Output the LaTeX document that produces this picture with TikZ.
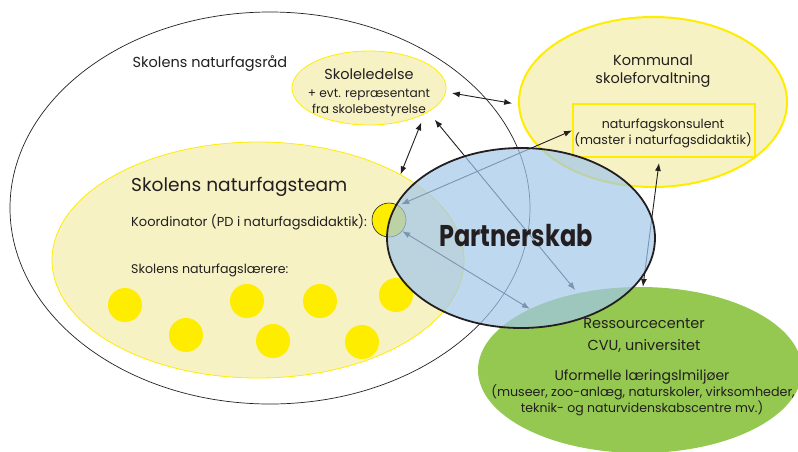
\documentclass[tikz,border=0pt]{standalone}
\usepackage{fontspec}
\setmainfont{Poppins}
\usetikzlibrary{shapes.geometric,arrows.meta}
\definecolor{ink}{RGB}{35,31,32}
\definecolor{paleyellow}{RGB}{247,242,196}
\definecolor{signal}{RGB}{255,237,0}
\definecolor{leaf}{RGB}{148,200,80}
\definecolor{sky}{RGB}{162,199,234}
\newcommand\fs[1]{\fontsize{#1}{#1}\selectfont}
\begin{document}
\begin{tikzpicture}[x=1pt,y=-1pt,
  txt/.style={inner sep=0pt, text=ink, anchor=base},
  blob/.style={ellipse, inner sep=0pt},
  dot/.style={circle, inner sep=0pt, minimum size=34pt, fill=signal},
  link/.style={{Latex[length=8pt,width=6pt]}-{Latex[length=8pt,width=6pt]}, line width=0.9pt, draw=ink}]
\useasboundingbox (0,0) rectangle (798,451);
\clip (0,0) rectangle (798,451);

% school council outline
\node[blob, draw=ink, line width=0.7pt, minimum width=520pt, minimum height=392pt] (rad) at (270,208) {};

% management, municipality, team and resource centre
\node[blob, fill=paleyellow, draw=signal, line width=0.8pt, minimum width=154pt, minimum height=74pt] (sl) at (369,88) {};
\node[blob, fill=paleyellow, draw=signal, line width=2pt, minimum width=268pt, minimum height=170pt] (ko) at (653,102) {};
\node[draw=signal, line width=2pt, inner sep=0pt, minimum width=182pt, minimum height=53pt] (kb) at (664,130.5) {};
\node[blob, fill=paleyellow, draw=signal, line width=0.8pt, minimum width=412pt, minimum height=236pt] (team) at (258,260) {};
\node[blob, fill=leaf, minimum width=324pt, minimum height=166pt] (grn) at (640,370) {};

% teachers and coordinator
\node[dot] (t1) at (125,305) {};
\node[dot] (t2) at (186,335) {};
\node[dot] (t3) at (247,301) {};
\node[dot] (t4) at (273,341) {};
\node[dot] (t5) at (320,301) {};
\node[dot] (t6) at (362,342) {};
\node[dot] (t7) at (396,295) {};
\node[dot, draw=ink, line width=0.6pt] (kc) at (389,220) {};

% relations
\draw[link, shorten <=6pt, shorten >=6pt] (sl.-3.4) -- (ko.181);
\draw[link, shorten <=9pt] (sl.-25) -- (team.31.5);
\draw[link, shorten <=10pt, shorten >=4pt] (sl.-22.8) -- (grn.129.2);
\draw[link, shorten >=3pt] (kb.west) -- (kc.57);
\draw[link] (kc.-40.6) -- (grn.151.7);
\draw[link, shorten <=5pt] (kb.-99) -- (grn.88);

% partnership
\node[blob, fill=sky, fill opacity=0.7, draw=ink, line width=1.8pt, minimum width=268pt, minimum height=180pt] (ps) at (521,238) {};

% labels
\node[txt] (rad-t) at (210,67) {\fs{14.5}Skolens naturfagsråd};
\node[txt] (sl-t1) at (369,79) {\fs{14.5}Skoleledelse};
\node[txt] (sl-t2) at (369,97) {\fs{12.2}+ evt. repræsentant};
\node[txt] (sl-t3) at (369,113) {\fs{12.2}fra skolebestyrelse};
\node[txt] (ko-t1) at (653,65) {\fs{14.5}Kommunal};
\node[txt] (ko-t2) at (653,83) {\fs{14.5}skoleforvaltning};
\node[txt] (kb-t1) at (663,128) {\fs{12.6}naturfagskonsulent};
\node[txt] (kb-t2) at (663,144) {\fs{12.6}(master i naturfagsdidaktik)};
\node[txt, anchor=base west] (team-t1) at (131,191) {\fs{18.6}Skolens naturfagsteam};
\node[txt, anchor=base west] (team-t2) at (131,226) {\fs{13}Koordinator (PD i naturfagsdidaktik):};
\node[txt, anchor=base west] (team-t3) at (131,273) {\fs{12.6}Skolens naturfagslærere:};
\node[txt] (ps-t) at (516,246) {\scalebox{0.8}[1]{\fs{30}\bfseries Partnerskab}};
\node[txt] (grn-t1) at (644,328) {\fs{14.5}Ressourcecenter};
\node[txt] (grn-t2) at (644,350) {\fs{14.5}CVU, universitet};
\node[txt] (grn-t3) at (642,380) {\fs{14}Uformelle læringslmiljøer};
\node[txt] (grn-t4) at (643,396) {\fs{12.7}(museer, zoo-anlæg, naturskoler, virksomheder,};
\node[txt] (grn-t5) at (642,412) {\fs{12.5}teknik- og naturvidenskabscentre mv.)};
\end{tikzpicture}
\end{document}
